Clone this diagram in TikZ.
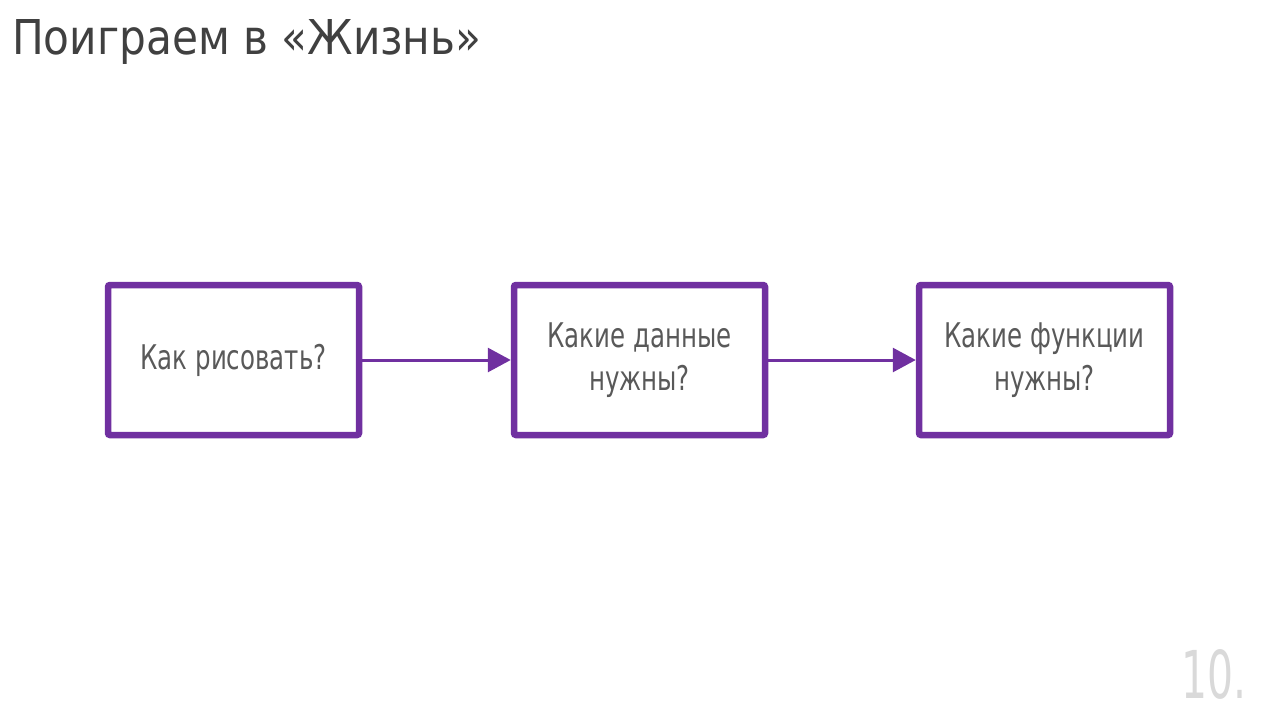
\documentclass[tikz,border=0pt]{standalone}
\usepackage{fontspec}
\setmainfont{DejaVu Sans}
\newfontfamily\titlefont[FakeStretch=0.88]{DejaVu Sans}
\newfontfamily\boxfont[FakeStretch=0.72]{DejaVu Sans}
\newfontfamily\numfont[FakeStretch=0.62]{DejaVu Sans}
\usetikzlibrary{arrows.meta}
\definecolor{vio}{HTML}{7030A0}
\definecolor{titlegray}{HTML}{404040}
\definecolor{boxgray}{HTML}{595959}
\definecolor{numgray}{HTML}{D9D9D9}
\tikzset{
  qbox/.style={draw=vio, line width=6.5pt, rounded corners=2pt, minimum width=251pt, minimum height=150pt,
    align=center, text=boxgray, font=\boxfont\fontsize{34}{43}\selectfont, inner sep=0pt},
  flow/.style={draw=vio, line width=3pt, -{Triangle[length=23pt,width=24pt]}}
}
\begin{document}
\begin{tikzpicture}[x=1pt,y=-1pt]
\useasboundingbox (0,0) rectangle (1280,720);
\node[anchor=base west, text=titlegray, font=\titlefont\fontsize{48}{58}\selectfont, inner sep=0pt] (title) at (12,54) {Поиграем в «Жизнь»};
\node[qbox] (b1) at (233.5,360) {Как рисовать?};
\node[qbox] (b2) at (639.5,360) {Какие данные\\нужны?};
\node[qbox] (b3) at (1044.5,360) {Какие функции\\нужны?};
\draw[flow] (b1.east) -- (b2.west);
\draw[flow] (b2.east) -- (b3.west);
\node[anchor=base east, text=numgray, font=\numfont\fontsize{66}{70}\selectfont, inner sep=0pt] (num) at (1247,698) {10.};
\end{tikzpicture}
\end{document}
